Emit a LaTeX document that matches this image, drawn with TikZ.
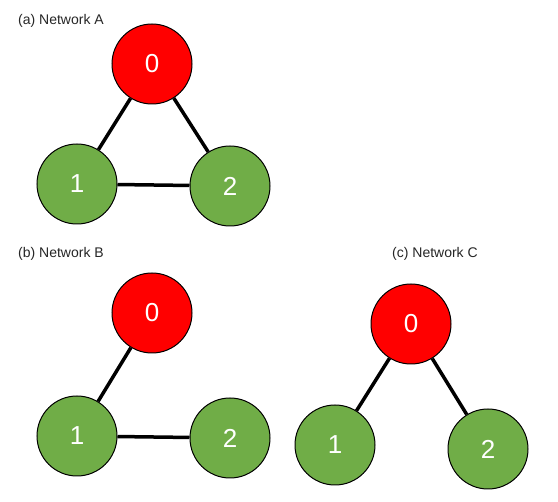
\documentclass[tikz,border=0pt]{standalone}
\usepackage{fontspec}
\setmainfont{Liberation Sans}
\definecolor{nodered}{HTML}{FF0000}
\definecolor{nodegreen}{HTML}{70AD47}
\begin{document}
\begin{tikzpicture}[x=1pt,y=-1pt,
  vert/.style={circle,draw=black,line width=1pt,minimum size=80pt,inner sep=0pt,text=white,font=\fontsize{26}{30}\selectfont},
  rootv/.style={vert,fill=nodered},
  leafv/.style={vert,fill=nodegreen},
  edge/.style={line width=3.5pt,black},
  netlabel/.style={anchor=west,inner sep=0pt,font=\fontsize{14}{16}\selectfont,text=black!85}]
\useasboundingbox (0,0) rectangle (558,502);
% Network A
\node[netlabel] (la) at (18,21) {(a) Network A};
\node[rootv] (a0) at (152,64) {0};
\node[leafv] (a1) at (77,184) {1};
\node[leafv] (a2) at (230,186) {2};
\draw[edge] (a0) -- (a1);
\draw[edge] (a0) -- (a2);
\draw[edge] (a1) -- (a2);
% Network B
\node[netlabel] (lb) at (18,254) {(b) Network B};
\node[rootv] (b0) at (152,313) {0};
\node[leafv] (b1) at (77,436) {1};
\node[leafv] (b2) at (230,438) {2};
\draw[edge] (b0) -- (b1);
\draw[edge] (b1) -- (b2);
% Network C
\node[netlabel] (lc) at (392,254) {(c) Network C};
\node[rootv] (c0) at (411,324) {0};
\node[leafv] (c1) at (335,445) {1};
\node[leafv] (c2) at (488,449) {2};
\draw[edge] (c0) -- (c1);
\draw[edge] (c0) -- (c2);
\end{tikzpicture}
\end{document}
